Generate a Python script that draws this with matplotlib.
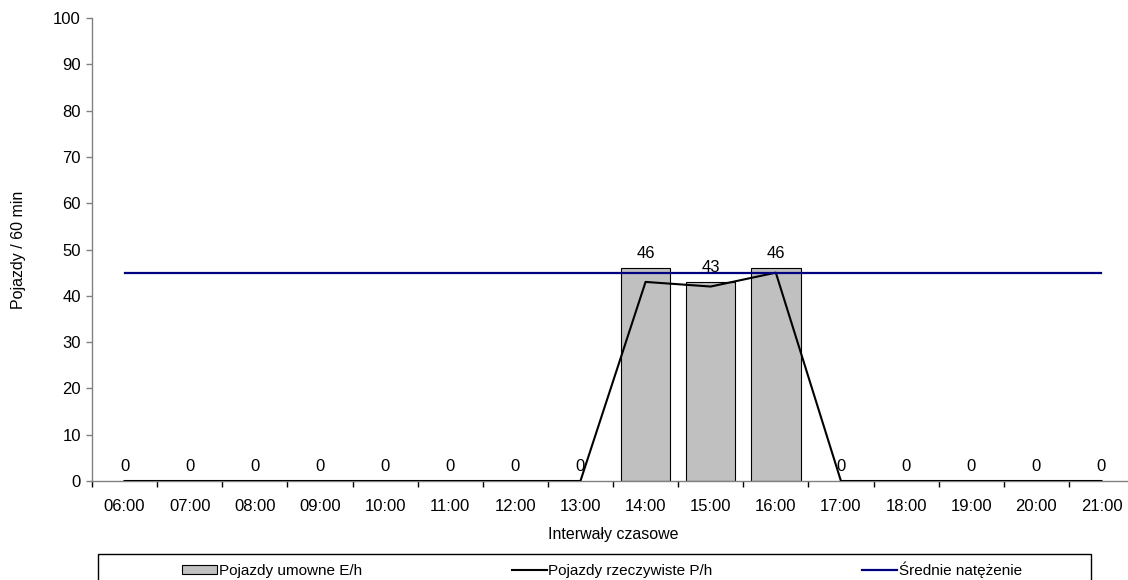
import matplotlib
matplotlib.use("Agg")
import matplotlib.pyplot as plt
import numpy as np
from matplotlib.patches import Rectangle

plt.rcParams['font.family'] = ['Liberation Sans', 'DejaVu Sans']

# Dane pomiarowe
godziny = ['06:00', '07:00', '08:00', '09:00', '10:00', '11:00', '12:00', '13:00',
           '14:00', '15:00', '16:00', '17:00', '18:00', '19:00', '20:00', '21:00']
umowne = [0, 0, 0, 0, 0, 0, 0, 0, 46, 43, 46, 0, 0, 0, 0, 0]
rzeczywiste = [0, 0, 0, 0, 0, 0, 0, 0, 43, 42, 45, 0, 0, 0, 0, 0]
srednie = 45

fig = plt.figure(figsize=(11.28, 5.80), dpi=100)
ax = fig.add_axes([92 / 1128, 1 - 481 / 580, 1042 / 1128, 463 / 580])

x = np.arange(len(godziny))
umowne_arr = np.array(umowne)
mask = umowne_arr > 0

h_bar = ax.bar(x[mask], umowne_arr[mask], width=0.76, color='#C0C0C0',
               edgecolor='black', linewidth=0.8, zorder=2)
h_rz, = ax.plot(x, rzeczywiste, color='black', linewidth=1.5, zorder=3)
h_sr, = ax.plot([x[0], x[-1]], [srednie, srednie], color='#000080',
                linewidth=1.6, zorder=3)

# etykiety wartości nad słupkami
for xi, v in zip(x, umowne):
    ax.annotate(str(v), (xi, v), xytext=(0, 5), textcoords='offset points',
                ha='center', va='bottom', fontsize=12, zorder=4)

ax.set_xlim(-0.5, len(godziny) - 0.5)
ax.set_ylim(0, 100)
ax.set_yticks(range(0, 101, 10))
ax.set_xticks(x)
ax.set_xticklabels(godziny)
ax.set_xticks(np.arange(-0.5, len(godziny)), minor=True)

ax.tick_params(axis='x', which='major', length=0, pad=13, labelsize=12)
ax.tick_params(axis='x', which='minor', length=4, width=1, color='black')
ax.tick_params(axis='y', length=4, width=1, color='#808080', pad=4, labelsize=12)

for side in ['top', 'right']:
    ax.spines[side].set_visible(False)
for side in ['left', 'bottom']:
    ax.spines[side].set_color('#808080')
    ax.spines[side].set_linewidth(1)

ax.set_xlabel('Interwały czasowe', fontsize=11.5)
ax.xaxis.set_label_coords(0.5, -(527 - 481) / 463)
ax.set_ylabel('Pojazdy / 60 min', fontsize=11.5)
ax.yaxis.set_label_coords(-(92 - 26) / 1042, 0.5)

# ramka legendy pod wykresem
fig.patches.append(Rectangle((98 / 1128, -0.05), 993 / 1128, 0.05 + (1 - 554 / 580),
                             transform=fig.transFigure, fill=False,
                             edgecolor='black', linewidth=1))
fig.legend([h_bar, h_rz, h_sr],
           ['Pojazdy umowne E/h', 'Pojazdy rzeczywiste P/h', 'Średnie natężenie'],
           loc='center', bbox_to_anchor=(602 / 1128, 1 - 570 / 580),
           ncol=3, frameon=False, fontsize=11, columnspacing=9.8,
           handlelength=2.3, handletextpad=0.1, handleheight=0.5)

fig.savefig('out.png', dpi=100)
